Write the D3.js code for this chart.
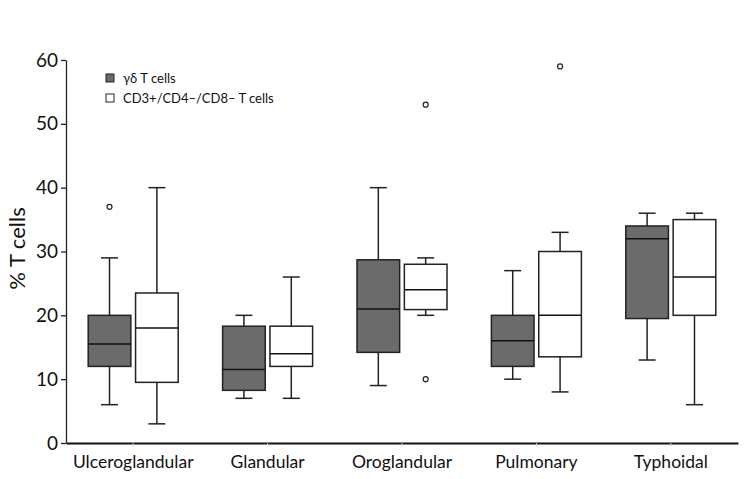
<!DOCTYPE html>
<html>
<head>
<meta charset="utf-8">
<script src="https://cdn.jsdelivr.net/npm/d3@7"></script>
<style>
  body { margin: 0; background: #fff; }
  svg text { font-family: Lato, "Open Sans", sans-serif; fill: #111; }
</style>
</head>
<body>
<div id="root"></div>
<script>
// categories and series
const categories = ['Ulceroglandular', 'Glandular', 'Oroglandular', 'Pulmonary', 'Typhoidal'];
const seriesNames = ['γδ T cells', 'CD3+/CD4–/CD8– T cells'];
const yTicks = [0, 10, 20, 30, 40, 50, 60];

// [min, q1, median, q3, max] per category
const gdStats = [
  [6, 12, 15.5, 20, 29],
  [7, 8.25, 11.5, 18.3, 20],
  [9, 14.2, 21, 28.7, 40],
  [10, 12, 16, 20, 27],
  [13, 19.5, 32, 34, 36]
];
const dnStats = [
  [3, 9.5, 18, 23.5, 40],
  [7, 12, 14, 18.3, 26],
  [20, 20.9, 24, 28, 29],
  [8, 13.5, 20, 30, 33],
  [6, 20, 26, 35, 36]
];
// outliers
const gdOutliers = [[37], [], [], [], []];
const dnOutliers = [[], [], [53, 10], [59], []];

const w = 750, h = 479;
const margin = {left: 66, right: 12, top: 60, bottom: 36};

const svg = d3.select('#root').append('svg')
  .attr('width', w)
  .attr('height', h);

const x = d3.scaleBand()
  .domain(categories)
  .range([margin.left, w - margin.right]);

const y = d3.scaleLinear()
  .domain([0, 60])
  .range([h - margin.bottom, margin.top]);

const sub = d3.scaleBand()
  .domain([0, 1])
  .range([-45, 45])
  .paddingInner(0.1);

// axes
const yAxis = d3.axisLeft(y).tickValues(yTicks).tickSize(5).tickSizeOuter(0);
const gy = svg.append('g')
  .attr('transform', `translate(${margin.left},0)`)
  .call(yAxis);
gy.select('.domain').attr('stroke', '#222').attr('stroke-width', 1.3);
gy.selectAll('.tick line').attr('stroke', '#222').attr('stroke-width', 1.3);
gy.selectAll('.tick text').attr('font-size', 19).attr('x', -8);

const xAxis = d3.axisBottom(x).tickSize(3).tickSizeOuter(0);
const gx = svg.append('g')
  .attr('transform', `translate(0,${h - margin.bottom})`)
  .call(xAxis);
gx.select('.domain').attr('stroke', '#111').attr('stroke-width', 2);
gx.selectAll('.tick line').attr('stroke', '#ccc');
gx.selectAll('.tick text').attr('font-size', 17.5).attr('dy', '1.1em');

svg.append('text')
  .attr('transform', `translate(25,${(y(0) + y(60)) / 2 - 3}) rotate(-90)`)
  .attr('text-anchor', 'middle')
  .attr('font-size', 22)
  .text('% T cells');

// boxes
const series = [
  {stats: gdStats, out: gdOutliers, fill: '#6b6b6b'},
  {stats: dnStats, out: dnOutliers, fill: '#ffffff'}
];
const bw = sub.bandwidth();
const capW = 17;

series.forEach((s, si) => {
  const g = svg.append('g');
  const cx = c => x(c) + x.bandwidth() / 2 + sub(si) + bw / 2;
  const data = categories.map((c, i) => ({c, st: s.stats[i], out: s.out[i]}));

  // whiskers
  g.selectAll('.wl').data(data).enter().append('line')
    .attr('x1', d => cx(d.c)).attr('x2', d => cx(d.c))
    .attr('y1', d => y(d.st[0])).attr('y2', d => y(d.st[4]))
    .attr('stroke', '#222').attr('stroke-width', 1.5);
  g.selectAll('.capLo').data(data).enter().append('line')
    .attr('x1', d => cx(d.c) - capW / 2).attr('x2', d => cx(d.c) + capW / 2)
    .attr('y1', d => y(d.st[0])).attr('y2', d => y(d.st[0]))
    .attr('stroke', '#222').attr('stroke-width', 1.5);
  g.selectAll('.capHi').data(data).enter().append('line')
    .attr('x1', d => cx(d.c) - capW / 2).attr('x2', d => cx(d.c) + capW / 2)
    .attr('y1', d => y(d.st[4])).attr('y2', d => y(d.st[4]))
    .attr('stroke', '#222').attr('stroke-width', 1.5);

  g.selectAll('rect').data(data).enter().append('rect')
    .attr('x', d => cx(d.c) - bw / 2)
    .attr('y', d => y(d.st[3]))
    .attr('width', bw)
    .attr('height', d => y(d.st[1]) - y(d.st[3]))
    .attr('fill', s.fill)
    .attr('stroke', '#222').attr('stroke-width', 1.5);

  g.selectAll('.med').data(data).enter().append('line')
    .attr('x1', d => cx(d.c) - bw / 2).attr('x2', d => cx(d.c) + bw / 2)
    .attr('y1', d => y(d.st[2])).attr('y2', d => y(d.st[2]))
    .attr('stroke', '#111').attr('stroke-width', 1.5);

  data.forEach(d => {
    g.selectAll(null).data(d.out).enter().append('circle')
      .attr('cx', cx(d.c)).attr('cy', v => y(v))
      .attr('r', 2.5)
      .attr('fill', 'none').attr('stroke', '#222').attr('stroke-width', 1.2);
  });
});

// legend
const legend = svg.append('g').attr('transform', 'translate(106,74)');
seriesNames.forEach((name, i) => {
  legend.append('rect')
    .attr('x', 0).attr('y', i * 20)
    .attr('width', 8).attr('height', 8)
    .attr('fill', series[i].fill)
    .attr('stroke', '#222').attr('stroke-width', 1);
  legend.append('text')
    .attr('x', 17).attr('y', i * 20 + 8.5)
    .attr('font-size', 13)
    .text(name);
});
</script>
</body>
</html>
